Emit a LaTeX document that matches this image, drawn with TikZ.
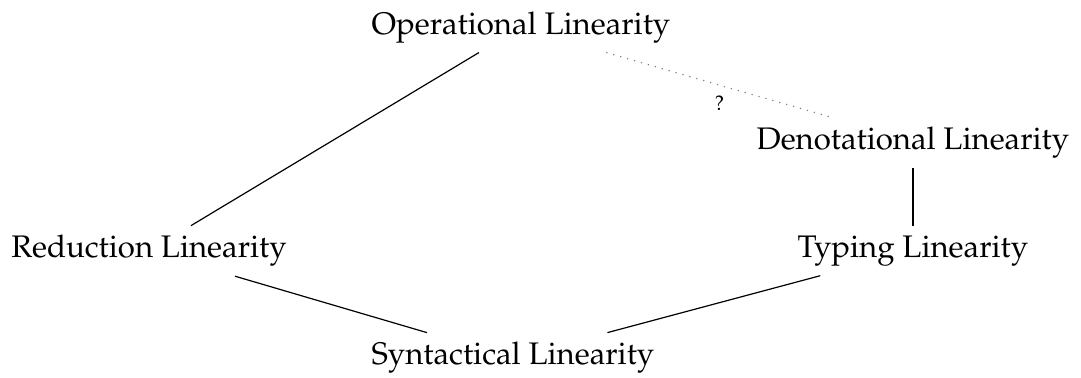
\documentclass[tikz,border=0pt]{standalone}
\usepackage[T1]{fontenc}
\usepackage{mathpazo}
\usepackage{tikz}
\usetikzlibrary{positioning}

\begin{document}
\begin{tikzpicture}[lin/.style={inner sep=3pt, font=\fontsize{10.4}{12.5}\selectfont}]
  \useasboundingbox (0,0) rectangle (12.67,4.43);
  \node[lin] (op) at (6.106,4.11) {Operational Linearity};
  \node[lin] (den) at (10.70,2.754) {Denotational Linearity};
  \node[lin] (red) at (1.746,1.489) {Reduction Linearity};
  \node[lin] (typ) at (10.70,1.489) {Typing Linearity};
  \node[lin] (syn) at (6.012,0.235) {Syntactical Linearity};
  \draw (op) -- (red);
  \draw (red) -- (syn) -- (typ);
  \draw (den) -- (typ);
  \draw[dotted, gray] ([xshift=1cm]op.south) -- node[below, font=\scriptsize, text=black]{?} ([xshift=-0.94cm]den.north);
\end{tikzpicture}
\end{document}
